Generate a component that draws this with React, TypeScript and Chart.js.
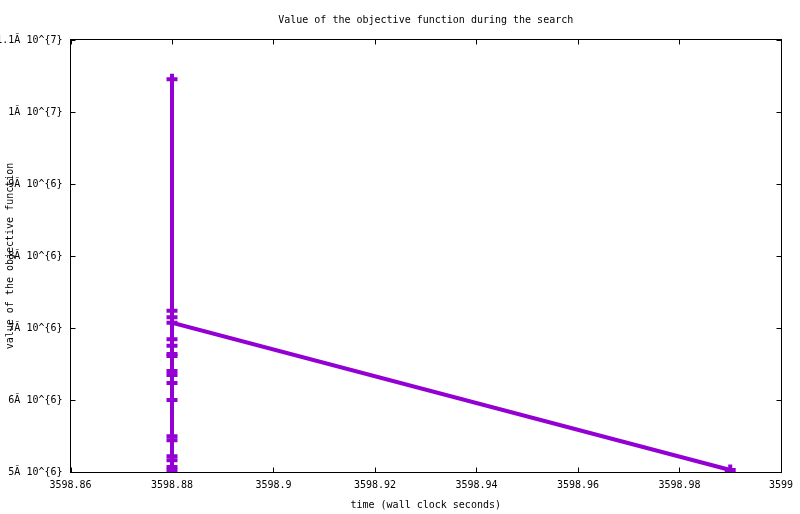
import { useEffect, useRef } from 'react';
import { Chart, registerables } from 'chart.js';

Chart.register(...registerables);

// search trace: wall clock time (s) and objective value
const times = [
  3598.88, 3598.88, 3598.88, 3598.88, 3598.88, 3598.88, 3598.88, 3598.88, 3598.88,
  3598.88, 3598.88, 3598.88, 3598.88, 3598.88, 3598.88, 3598.88, 3598.88, 3598.88,
  3598.88, 3598.99,
];
const objective = [
  10454000, 7240000, 7149000, 6843000, 6754000, 6639000, 6611000, 6403000, 6347000,
  6236000, 6000000, 5495000, 5440000, 5218000, 5163000, 5069000, 5024000, 4950000,
  7074000, 5028000,
];

const xTickValues = [3598.86, 3598.88, 3598.9, 3598.92, 3598.94, 3598.96, 3598.98, 3599];
const xTickLabels = ['3598.86', '3598.88', '3598.9', '3598.92', '3598.94', '3598.96', '3598.98', '3599'];
const yTickValues = [5e6, 6e6, 7e6, 8e6, 9e6, 1e7, 1.1e7];
const yTickLabels = [
  '5Ă 10^{6}', '6Ă 10^{6}', '7Ă 10^{6}', '8Ă 10^{6}', '9Ă 10^{6}', '1Ă 10^{7}', '1.1Ă 10^{7}',
];

const FONT = { family: '"DejaVu Sans Mono", monospace', size: 10, weight: 'normal' as const };
const PURPLE = '#9400d3';

// gnuplot style frame with inward, mirrored ticks
const framePlugin = {
  id: 'frame',
  beforeDatasetsDraw(chart: any) {
    const { ctx, chartArea, scales } = chart;
    const l = Math.round(chartArea.left) - 0.5;
    const r = Math.round(chartArea.right) + 0.5;
    const t = Math.round(chartArea.top) - 0.5;
    const b = Math.round(chartArea.bottom) + 0.5;
    ctx.save();
    ctx.strokeStyle = '#000';
    ctx.lineWidth = 1;
    ctx.strokeRect(l, t, r - l, b - t);
    ctx.beginPath();
    xTickValues.forEach((v) => {
      const px = Math.round(scales.x.getPixelForValue(v)) + 0.5;
      ctx.moveTo(px, b);
      ctx.lineTo(px, b - 5);
      ctx.moveTo(px, t);
      ctx.lineTo(px, t + 5);
    });
    yTickValues.forEach((v) => {
      const py = Math.round(scales.y.getPixelForValue(v)) + 0.5;
      ctx.moveTo(l, py);
      ctx.lineTo(l + 5, py);
      ctx.moveTo(r, py);
      ctx.lineTo(r - 5, py);
    });
    ctx.stroke();
    ctx.restore();
  },
};

export default function App() {
  const canvasRef = useRef<HTMLCanvasElement | null>(null);

  useEffect(() => {
    if (!canvasRef.current) return;
    const chart = new Chart(canvasRef.current, {
      type: 'line',
      data: {
        datasets: [
          {
            data: times.map((t, i) => ({ x: t, y: objective[i] })),
            borderColor: PURPLE,
            backgroundColor: PURPLE,
            borderWidth: 4,
            pointStyle: 'cross',
            pointRadius: 5.5,
            pointBorderWidth: 4,
            pointBorderColor: PURPLE,
            tension: 0,
          },
        ],
      },
      options: {
        responsive: false,
        animation: false,
        layout: { padding: { left: 0, right: 19, top: 0, bottom: 0 } },
        plugins: {
          legend: { display: false },
          tooltip: { enabled: false },
          title: {
            display: true,
            text: 'Value of the objective function during the search',
            font: FONT,
            color: '#000',
            fullSize: false,
            padding: { top: 14, bottom: 14 },
          },
        },
        scales: {
          x: {
            type: 'linear',
            min: 3598.86,
            max: 3599,
            grid: { display: false, drawTicks: false },
            border: { display: false },
            afterBuildTicks: (s: any) => {
              s.ticks = xTickValues.map((v) => ({ value: v }));
            },
            afterFit: (s: any) => {
              s.height = 42;
            },
            ticks: {
              font: FONT,
              color: '#000',
              padding: 7,
              maxRotation: 0,
              autoSkip: false,
              callback: (_v: any, i: number) => xTickLabels[i],
            },
            title: {
              display: true,
              text: 'time (wall clock seconds)',
              font: FONT,
              color: '#000',
              padding: { top: 0, bottom: 3 },
            },
          },
          y: {
            type: 'linear',
            min: 5e6,
            max: 1.1e7,
            grid: { display: false, drawTicks: false },
            border: { display: false },
            afterBuildTicks: (s: any) => {
              s.ticks = yTickValues.map((v) => ({ value: v }));
            },
            afterFit: (s: any) => {
              s.width = 70.5;
            },
            ticks: {
              font: FONT,
              color: '#000',
              padding: 8,
              autoSkip: false,
              callback: (_v: any, i: number) => yTickLabels[i],
            },
            title: {
              display: true,
              text: 'value of the objective function',
              font: FONT,
              color: '#000',
              padding: { top: 4, bottom: 0 },
            },
          },
        },
      },
      plugins: [framePlugin],
    });
    return () => chart.destroy();
  }, []);

  return (
    <div style={{ position: 'absolute', left: 0, top: 0, width: 800, height: 514, background: '#fff' }}>
      <canvas ref={canvasRef} width={800} height={514}></canvas>
    </div>
  );
}
